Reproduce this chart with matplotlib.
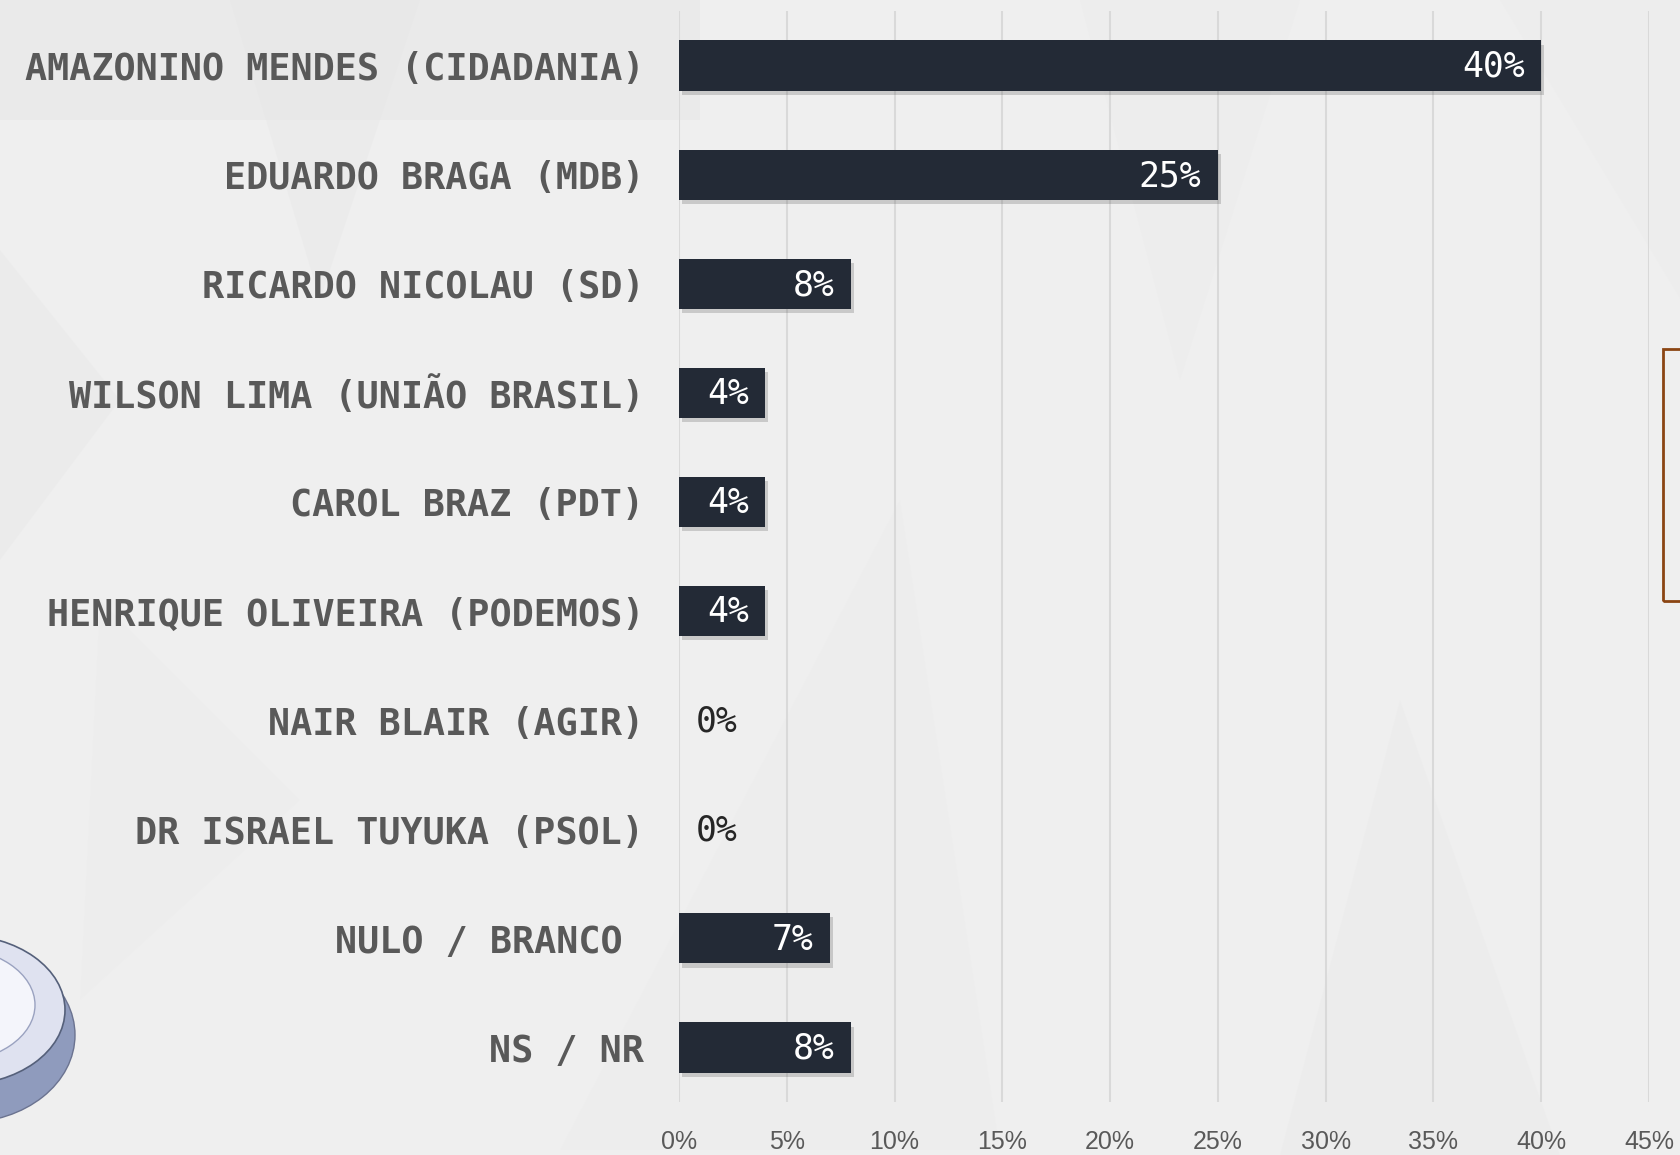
import numpy as np
import matplotlib.pyplot as plt
import matplotlib.patheffects as pe
from matplotlib.patches import Rectangle, Ellipse, Polygon

# data
candidates = ["AMAZONINO MENDES (CIDADANIA)", "EDUARDO BRAGA (MDB)",
              "RICARDO NICOLAU (SD)", "WILSON LIMA (UNIÃO BRASIL)",
              "CAROL BRAZ (PDT)", "HENRIQUE OLIVEIRA (PODEMOS)",
              "NAIR BLAIR (AGIR)", "DR ISRAEL TUYUKA (PSOL)",
              "NULO / BRANCO ", "NS / NR"]
votes = [40, 25, 8, 4, 4, 4, 0, 0, 7, 8]
ticks = [0, 5, 10, 15, 20, 25, 30, 35, 40, 45]

bg = '#efefef'
bar_color = '#232a36'
label_gray = '#595959'

W, H = 1681, 1155
fig = plt.figure(figsize=(W / 100, H / 100), dpi=100, facecolor=bg)

# faint background shapes
def px(pts):
    return [(x / W, 1 - y / H) for x, y in pts]

shapes = [
    ([(0, 0), (700, 0), (700, 120), (0, 120)], '#e6e6e6', 0.5),
    ([(230, 0), (420, 0), (320, 300)], '#e4e4e4', 0.3),
    ([(0, 250), (120, 400), (0, 560)], '#e6e6e6', 0.35),
    ([(1080, 0), (1300, 0), (1180, 380)], '#eaeaea', 0.35),
    ([(560, 1150), (900, 500), (1000, 1150)], '#eaeaea', 0.25),
    ([(1280, 1155), (1400, 700), (1560, 1155)], '#e8e8e8', 0.3),
    ([(1500, 0), (1681, 0), (1681, 300)], '#eaeaea', 0.3),
    ([(100, 600), (300, 800), (80, 1000)], '#eaeaea', 0.25),
]
for pts, col, a in shapes:
    fig.add_artist(Polygon(px(pts), closed=True, transform=fig.transFigure,
                           facecolor=col, edgecolor='none', alpha=a, zorder=0))

# logo fragment bottom-left
fig.add_artist(Ellipse(((-35) / W, 1 - 1035 / H), 220 / W, 175 / H,
                       transform=fig.transFigure, facecolor='#8f9bbd',
                       edgecolor='#6b7390', lw=1, zorder=1))
fig.add_artist(Ellipse(((-40) / W, 1 - 1010 / H), 210 / W, 150 / H,
                       transform=fig.transFigure, facecolor='#dfe2f0',
                       edgecolor='#55607a', lw=1.2, zorder=1))
fig.add_artist(Ellipse(((-50) / W, 1 - 1005 / H), 170 / W, 115 / H,
                       transform=fig.transFigure, facecolor='#f4f5fb',
                       edgecolor='#9aa2c0', lw=1, zorder=1))

# brown frame at right edge
fig.add_artist(Rectangle((1663 / W, 1 - 601 / H), 40 / W, 252 / H,
                         transform=fig.transFigure, facecolor='none',
                         edgecolor='#8b4513', lw=2, zorder=2))

ax = fig.add_axes([679 / W, 1 - 1102 / H, (1649 - 679) / W, (1102 - 11) / H])
ax.set_facecolor('none')

y = np.arange(len(candidates))
bars = ax.barh(y, votes, height=0.46, color=bar_color, zorder=3)
for b in bars:
    b.set_path_effects([pe.SimplePatchShadow(offset=(2, -3), alpha=0.22,
                                             shadow_rgbFace='#444444'),
                        pe.Normal()])

for yi, v in zip(y, votes):
    if v > 0:
        ax.annotate(f"{v}%", xy=(v, yi), xytext=(-12, -1), textcoords='offset points',
                    ha='right', va='center', color='white',
                    family='DejaVu Sans Mono', fontsize=25, zorder=4)
    else:
        ax.annotate(f"{v}%", xy=(v, yi), xytext=(12, -1), textcoords='offset points',
                    ha='left', va='center', color='#262626',
                    family='DejaVu Sans Mono', fontsize=25, zorder=4)

ax.set_xlim(0, 45)
ax.set_ylim(len(candidates) - 0.5, -0.5)
ax.set_xticks(ticks)
ax.set_xticklabels([f"{t}%" for t in ticks], color=label_gray, fontsize=18,
                   family=['Liberation Sans', 'DejaVu Sans'])
ax.set_yticks(y)
ax.set_yticklabels(candidates, color=label_gray, fontsize=26.5, fontweight='bold',
                   family='DejaVu Sans Mono')
ax.tick_params(axis='y', length=0, pad=25)
ax.tick_params(axis='x', length=0, pad=20)
ax.grid(axis='x', color='#d9d9d9', lw=1.5, zorder=1)
ax.set_axisbelow(True)
for s in ax.spines.values():
    s.set_visible(False)

fig.savefig('out.png', dpi=100, facecolor=bg)
